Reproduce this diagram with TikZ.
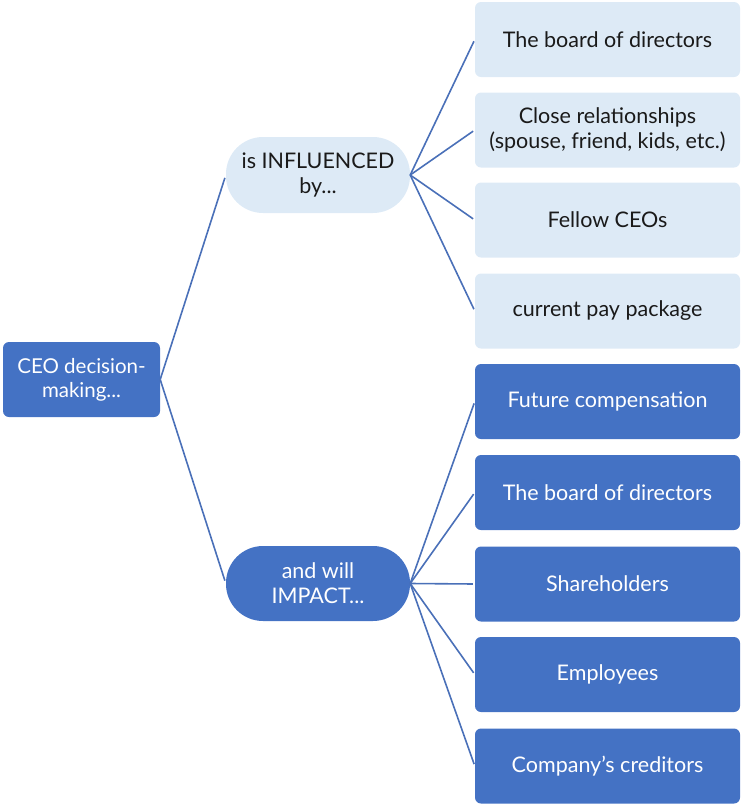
\documentclass[tikz,border=0pt]{standalone}
\usepackage{fontspec}
\setmainfont{Lato}
\definecolor{lightfill}{HTML}{DDEAF6}
\definecolor{darkfill}{HTML}{4472C4}
\definecolor{linecol}{HTML}{4A70B8}
\definecolor{txtdark}{HTML}{1A1A1A}
\begin{document}
\begin{tikzpicture}[x=1pt,y=1pt,
  lightbox/.style={draw=none,fill=lightfill,rounded corners=6pt,minimum width=265pt,minimum height=75pt,align=center,text=txtdark,font=\fontsize{21.5}{25}\selectfont,inner sep=0pt},
  darkbox/.style={draw=none,fill=darkfill,rounded corners=6pt,minimum width=265pt,minimum height=75pt,align=center,text=white,font=\fontsize{21.5}{25}\selectfont,inner sep=0pt},
  pilllight/.style={draw=none,fill=lightfill,rounded corners=37pt,minimum width=184pt,minimum height=76pt,align=center,text=txtdark,font=\fontsize{21.5}{25}\selectfont,inner sep=0pt},
  pilldark/.style={draw=none,fill=darkfill,rounded corners=37pt,minimum width=184pt,minimum height=75pt,align=center,text=white,font=\fontsize{21.5}{25}\selectfont,inner sep=0pt},
  rootbox/.style={draw=none,fill=darkfill,rounded corners=6pt,minimum width=157pt,minimum height=75pt,align=center,text=white,font=\fontsize{20.5}{24}\selectfont,inner sep=0pt},
  link/.style={draw=linecol,line width=1.6pt}]
\useasboundingbox (0,0) rectangle (740,-804);
\node[rootbox] (root) at (81.5,-379.5) {CEO decision-\\making...};
\node[pilllight] (inf) at (318,-175) {is INFLUENCED\\by...};
\node[pilldark] (imp) at (318,-583.5) {and will\\IMPACT...};
\node[lightbox] (a1) at (607.5,-39.5) {The board of directors};
\node[lightbox] (a2) at (607.5,-130) {Close relationships\\(spouse, friend, kids, etc.)};
\node[lightbox] (a3) at (607.5,-220) {Fellow CEOs};
\node[lightbox] (a4) at (607.5,-311) {current pay package};
\node[darkbox] (b1) at (607.5,-401.5) {Future compensation};
\node[darkbox] (b2) at (607.5,-492.5) {The board of directors};
\node[darkbox] (b3) at (607.5,-584) {Shareholders};
\node[darkbox] (b4) at (607.5,-674.5) {Employees};
\node[darkbox] (b5) at (607.5,-766) {Company’s creditors};
\draw[link,shorten >=3pt] (root.east) -- (inf.west);
\draw[link,shorten >=3pt] (root.east) -- (imp.west);
\foreach \n in {a1,a2,a3,a4} \draw[link,shorten >=2pt] (inf.east) -- (\n.west);
\foreach \n in {b1,b2,b3,b4,b5} \draw[link,shorten >=2pt] (imp.east) -- (\n.west);
\end{tikzpicture}
\end{document}
